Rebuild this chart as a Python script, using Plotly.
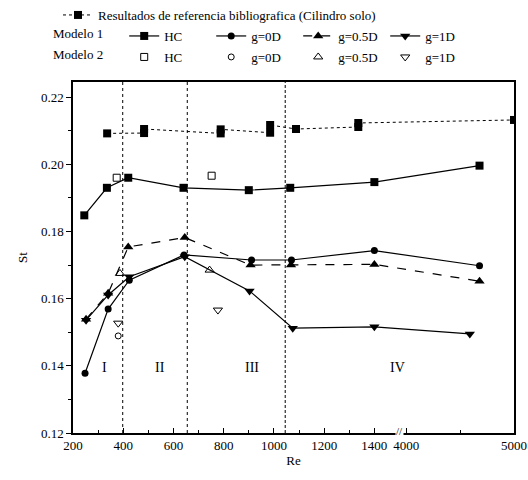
import plotly.graph_objects as go

# ---------------- data ----------------
ref_re = [336, 483, 483, 788, 788, 985, 985, 1088, 1336, 1336, 5000]
ref_st = [0.2092, 0.2093, 0.2105, 0.2092, 0.2104, 0.2094, 0.2117, 0.2105, 0.2111, 0.2123, 0.2132]

m1_hc_re = [245, 335, 420, 640, 900, 1065, 1400, 4680]
m1_hc_st = [0.1848, 0.1930, 0.1960, 0.1930, 0.1923, 0.1930, 0.1947, 0.1996]

m1_g0_re = [248, 340, 424, 642, 911, 1070, 1400, 4680]
m1_g0_st = [0.1378, 0.1569, 0.1655, 0.1730, 0.1715, 0.1715, 0.1743, 0.1698]

m1_g05_re = [252, 340, 420, 645, 907, 1068, 1400, 4680]
m1_g05_st = [0.1539, 0.1616, 0.1754, 0.1782, 0.1700, 0.1700, 0.1702, 0.1652]

m1_g1_re = [252, 340, 424, 645, 903, 1075, 1400, 4590]
m1_g1_st = [0.1536, 0.1611, 0.1665, 0.1725, 0.1623, 0.1512, 0.1516, 0.1495]

m2_hc_re = [374, 752]
m2_hc_st = [0.1960, 0.1966]
m2_g0_re = [380]
m2_g0_st = [0.1489]
m2_g05_re = [387, 744]
m2_g05_st = [0.1675, 0.1685]
m2_g1_re = [380, 777]
m2_g1_st = [0.1527, 0.1566]

regime_bounds = [398, 655, 1045]
regime_labels = ["I", "II", "III", "IV"]

x_tick_values = [200, 400, 600, 800, 1000, 1200, 1400, 4000, 5000]
x_tick_labels = ["200", "400", "600", "800", "1000", "1200", "1400", "4000", "5000"]
x_minor_values = [300, 500, 700, 900, 1100, 1300, 4500]

# ---------------- broken x axis mapping ----------------
BREAK_LO, BREAK_HI = 1400, 4000
HI_START = 1527     # axis position of Re = 4000
HI_SCALE = 0.429    # compression of the 4000-5000 segment


def xv(re):
    return re if re <= BREAK_LO else HI_START + (re - BREAK_HI) * HI_SCALE


def xs(lst):
    return [xv(v) for v in lst]


FONT = "Liberation Serif, Times New Roman, serif"
BLACK = "black"
F13 = dict(family=FONT, size=13, color=BLACK)

W, H = 528, 480


def cx(px):
    return px / W


def cy(py):
    return 1 - py / H


fig = go.Figure()

fig.add_trace(go.Scatter(
    x=xs(ref_re), y=ref_st, mode="lines+markers",
    name="Resultados de referencia bibliografica (Cilindro solo)",
    line=dict(color=BLACK, width=1, dash="dot"),
    marker=dict(symbol="square", size=8, color=BLACK),
    legend="legend"))

m1 = [("HC", m1_hc_re, m1_hc_st, "square", 8, "solid"),
      ("g=0D", m1_g0_re, m1_g0_st, "circle", 7, "solid"),
      ("g=0.5D", m1_g05_re, m1_g05_st, "triangle-up", 9, "dash"),
      ("g=1D", m1_g1_re, m1_g1_st, "triangle-down", 9, "solid")]
for name, xr, ys, sym, sz, dash in m1:
    fig.add_trace(go.Scatter(
        x=xs(xr), y=ys, mode="lines+markers", name=name,
        line=dict(color=BLACK, width=1.2, dash=dash),
        marker=dict(symbol=sym, size=sz, color=BLACK),
        legend="legend2"))

m2 = [("HC", m2_hc_re, m2_hc_st, "square-open", 7),
      ("g=0D", m2_g0_re, m2_g0_st, "circle-open", 6),
      ("g=0.5D", m2_g05_re, m2_g05_st, "triangle-up-open", 8),
      ("g=1D", m2_g1_re, m2_g1_st, "triangle-down-open", 8)]
for name, xr, ys, sym, sz in m2:
    fig.add_trace(go.Scatter(
        x=xs(xr), y=ys, mode="markers", name=name,
        marker=dict(symbol=sym, size=sz, color=BLACK, line=dict(color=BLACK, width=1)),
        legend="legend3"))

# regime boundaries
dashes = ["dot", "dot", "3px,2px"]
for b, d in zip(regime_bounds, dashes):
    fig.add_shape(type="line", xref="x", yref="paper", x0=xv(b), x1=xv(b), y0=0, y1=1,
                  line=dict(color=BLACK, width=1, dash=d))

label_x = [327, 546, 911, 1491]
for t, xx in zip(regime_labels, label_x):
    fig.add_annotation(x=xx, y=0.1396, xref="x", yref="y", text=t, showarrow=False,
                       font=dict(family=FONT, size=14, color=BLACK))

# axis break mark
fig.add_annotation(x=HI_START - 28, y=0, xref="x", yref="paper", text="//",
                   showarrow=False, bgcolor="white", borderpad=0, yanchor="middle", yshift=2,
                   font=dict(family=FONT, size=11, color=BLACK))

leg_common = dict(xref="container", yref="container", orientation="h",
                  font=F13, bgcolor="rgba(0,0,0,0)", borderwidth=0,
                  xanchor="left", yanchor="middle", itemclick=False, itemdoubleclick=False)

NB = "\u00a0"
fig.update_layout(
    width=W, height=H,
    margin=dict(l=73, r=14, t=82, b=47, autoexpand=False),
    paper_bgcolor="white", plot_bgcolor="white",
    font=F13,
    showlegend=True,
    legend=dict(x=cx(58), y=cy(15), **leg_common),
    legend2=dict(x=cx(51), y=cy(36), title=dict(text="Modelo 1" + NB * 4, side="left", font=F13),
                 entrywidth=42, **leg_common),
    legend3=dict(x=cx(51), y=cy(57), title=dict(text="Modelo 2" + NB * 4, side="left", font=F13),
                 entrywidth=42, **leg_common),
    xaxis=dict(range=[200, xv(5000)], tickmode="array", automargin=False,
               tickvals=xs(x_tick_values), ticktext=x_tick_labels,
               ticks="inside", ticklen=5, tickcolor=BLACK,
               minor=dict(tickmode="array", tickvals=xs(x_minor_values), ticks="inside", ticklen=3,
                          tickcolor=BLACK),
               showline=True, linecolor=BLACK, linewidth=1.5, mirror=True,
               showgrid=False, zeroline=False,
               title=dict(text="Re", font=F13, standoff=0),
               tickfont=F13),
    yaxis=dict(range=[0.12, 0.2245], tickmode="array", automargin=False,
               tickvals=[0.12, 0.14, 0.16, 0.18, 0.20, 0.22],
               ticktext=["0.12", "0.14", "0.16", "0.18", "0.20", "0.22"],
               ticks="outside", ticklen=5, tickcolor=BLACK,
               minor=dict(tickmode="array", tickvals=[0.13, 0.15, 0.17, 0.19, 0.21], ticks="outside",
                          ticklen=3, tickcolor=BLACK),
               showline=True, linecolor=BLACK, linewidth=1.5, mirror=True,
               showgrid=False, zeroline=False,
               title=dict(text="St", font=F13, standoff=10),
               tickfont=F13),
)

fig.write_html("out.html", config={"displayModeBar": False},
               post_script="document.body.style.margin='0';")
